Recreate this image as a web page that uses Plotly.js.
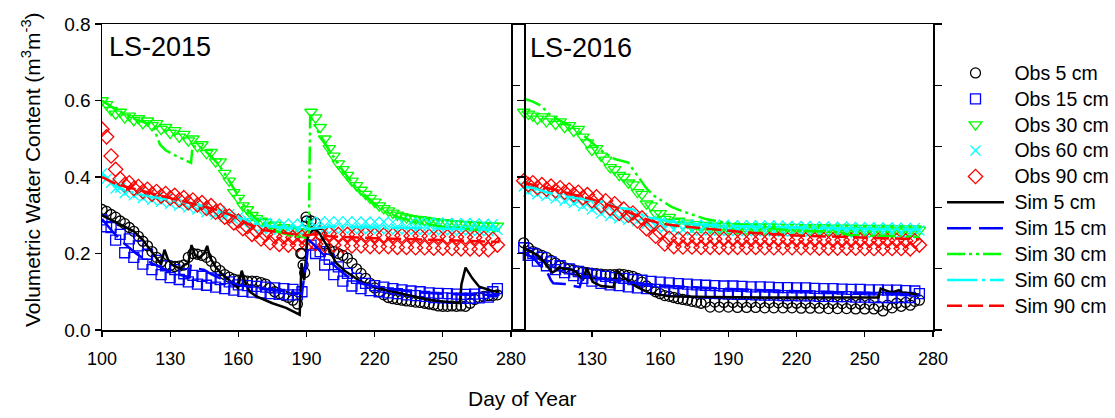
<!DOCTYPE html>
<html><head><meta charset="utf-8">
<script src="https://cdn.plot.ly/plotly-3.0.1.min.js"></script>
<style>html,body{margin:0;padding:0;background:#fff}#chart{width:1115px;height:418px}</style>
</head><body><div id="chart"></div>
<script>
// ---------- observation days (shared by both years) ----------
const obsDays = [100,102,104,106,108,110,112,114,116,118,
 120,122,124,126,128,130,132,134,136,138,
 140,142,144,146,148,150,152,154,156,158,
 160,162,164,166,168,170,172,174,176,178,
 180,182,184,186,188,190,192,194,196,198,
 200,202,204,206,208,210,212,214,216,218,
 220,222,224,226,228,230,232,234,236,238,
 240,242,244,246,248,250,252,254,256,258,
 260,262,264,266,268,270,272,274];

// ---------- LS-2015 observations ----------
const obs5_2015 = [.315,.31,.302,.295,.285,.278,.268,.258,.245,.232,
 .22,.205,.19,.178,.17,.168,.166,.167,.17,.19,
 .2,.198,.195,.19,.18,.165,.155,.145,.138,.133,
 .13,.13,.128,.128,.127,.124,.12,.11,.1,.095,
 .09,.085,.078,.068,.2,.285,.285,.28,.25,.225,
 .21,.205,.2,.195,.188,.175,.16,.148,.135,.122,
 .11,.1,.092,.085,.082,.08,.078,.076,.075,.073,
 .072,.07,.068,.066,.063,.062,.062,.063,.062,.063,
 .062,.07,.08,.085,.088,.09,.09,.092];
const obs5_2015_extraDays = [187.5,188.5,189.2,189.8];
const obs5_2015_extraVals = [0.2,0.17,0.15,0.295];
const obs15_2015 = [.288,.27,.268,.235,.25,.202,.238,.19,.22,.172,
 .198,.158,.182,.145,.168,.137,.158,.132,.147,.126,
 .143,.12,.14,.117,.136,.112,.132,.108,.126,.104,
 .118,.101,.116,.099,.114,.097,.112,.095,.11,.093,
 .108,.092,.106,.092,.1,null,.222,.2,.205,.17,
 .185,.145,.165,.128,.148,.115,.135,.108,.122,.103,
 .116,.1,.112,.097,.108,.095,.105,.092,.102,.09,
 .1,.088,.097,.085,.096,.084,.095,.083,.094,.083,
 .093,.083,.094,.084,.096,.086,.1,.108];
const obs30_2015 = [.60,.59,.575,.565,.57,.555,.56,.548,.553,.54,
 .547,.535,.54,.525,.53,.515,.522,.505,.512,.495,
 .5,.48,.485,.462,.465,.44,.44,.41,.39,.36,
 .345,.325,.315,.3,.292,.285,.282,.272,.275,.265,
 .268,.26,.262,.258,.255,null,.57,.555,.53,.5,
 .475,.455,.435,.42,.405,.39,.378,.366,.355,.345,
 .335,.325,.318,.312,.306,.301,.297,.294,.292,.29,
 .289,.287,.285,.284,.282,.281,.28,.279,.278,.277,
 .276,.275,.275,.274,.273,.273,.272,.272];
const obs60_2015 = [.41,.395,.385,.37,.372,.358,.365,.352,.358,.345,
 .352,.34,.347,.335,.342,.33,.337,.325,.332,.32,
 .327,.315,.322,.308,.316,.302,.31,.296,.303,.288,
 .295,.28,.288,.272,.282,.266,.28,.263,.278,.262,
 .278,.262,.278,.262,.278,.262,.283,.265,.284,.265,
 .284,.265,.284,.265,.284,.265,.284,.264,.283,.264,
 .283,.264,.283,.263,.282,.263,.282,.263,.282,.262,
 .282,.262,.281,.262,.281,.261,.28,.261,.28,.26,
 .28,.26,.279,.259,.278,.258,.277,.262];
const obs90_2015 = [.525,.505,.455,.42,.395,.38,.385,.37,.375,.362,
 .368,.355,.362,.35,.357,.345,.352,.34,.346,.333,
 .34,.327,.333,.318,.325,.308,.312,.295,.298,.28,
 .285,.265,.27,.25,.258,.238,.25,.228,.245,.224,
 .243,.222,.242,.222,.243,.222,.25,.225,.252,.222,
 .252,.222,.25,.22,.25,.22,.25,.22,.25,.218,
 .248,.218,.248,.218,.248,.216,.247,.216,.246,.215,
 .246,.215,.245,.214,.245,.214,.244,.213,.243,.212,
 .243,.212,.242,.211,.24,.21,.238,.222];

// ---------- LS-2015 simulations ----------
const sim5_2015_days = [100,105,110,114,118,122,125,126,127.5,129,131,133,134.5,136,138,139.4,141,143,145,146.3,147.5,150,153,156,159.8,161.5,163,165,168,175,181,187,187.8,189,190.5,193.5,195.7,200,203,207.4,213,220.6,231,245,257.5,258.2,260,263,266,271.7,275];
const sim5_2015 = [0.30,0.285,0.27,0.258,0.235,0.205,0.18,0.172,0.21,0.185,0.17,0.165,0.16,0.17,0.175,0.222,0.195,0.19,0.2,0.22,0.19,0.165,0.145,0.13,0.11,0.155,0.125,0.1,0.088,0.07,0.058,0.04,0.175,0.13,0.245,0.266,0.253,0.21,0.175,0.152,0.13,0.11,0.096,0.078,0.07,0.12,0.163,0.135,0.113,0.102,0.1];
const sim15_2015_days = [100,105,110,115,120,125,130,135,138.5,139,142,145,148,152,160,170,180,188,189,190,191,193,197,202,208,215,225,240,260,275];
const sim15_2015 = [0.29,0.255,0.225,0.2,0.18,0.165,0.152,0.143,0.138,0.168,0.16,0.157,0.146,0.135,0.118,0.108,0.1,0.095,0.14,0.18,0.235,0.225,0.2,0.17,0.14,0.12,0.108,0.098,0.092,0.092];
const sim30_2015_days = [100,105,110,115,120,123,125.5,128,131,134,137,139.2,139.8,143,147,151,155,159,163,167,171,175,180,185,191,191.6,195,200,205,210,215,220,225,230,240,250,262,275];
const sim30_2015 = [0.6,0.58,0.565,0.55,0.54,0.525,0.485,0.47,0.46,0.452,0.445,0.437,0.48,0.48,0.46,0.435,0.4,0.36,0.32,0.295,0.275,0.262,0.252,0.245,0.24,0.56,0.52,0.47,0.425,0.385,0.355,0.33,0.31,0.295,0.28,0.27,0.263,0.258];
const sim60_2015_days = [100,105,110,120,130,140,150,160,168,175,185,192,200,220,250,275];
const sim60_2015 = [0.41,0.38,0.365,0.35,0.34,0.33,0.315,0.295,0.278,0.27,0.265,0.265,0.27,0.268,0.265,0.262];
const sim90_2015_days = [100,105,110,120,130,140,150,158,165,170,178,185,190,193,200,220,250,275];
const sim90_2015 = [0.4,0.385,0.375,0.36,0.345,0.33,0.315,0.298,0.275,0.262,0.255,0.25,0.247,0.25,0.245,0.24,0.235,0.23];

// ---------- LS-2016 observations ----------
const obs5_2016 = [.228,.215,.205,.2,.195,.19,.182,.175,.168,.163,
 .16,.157,.154,.152,.15,.148,.147,.146,.145,.145,
 .145,.146,.145,.143,.14,.135,.125,.115,.108,.1,
 .095,.09,.088,.085,.082,.08,.078,.075,.073,.07,
 .073,.06,.073,.06,.072,.06,.072,.059,.072,.059,
 .072,.059,.071,.058,.071,.058,.071,.058,.07,.058,
 .07,.057,.07,.057,.07,.057,.069,.056,.069,.056,
 .069,.056,.068,.055,.068,.055,.067,.055,.062,.05,
 .065,.058,.07,.062,.072,.065,.075,.078];
const obs15_2016 = [.215,.195,.2,.18,.19,.168,.178,.158,.168,.15,
 .16,.142,.153,.135,.148,.128,.144,.122,.14,.118,
 .137,.116,.135,.113,.132,.11,.13,.108,.127,.106,
 .125,.104,.123,.102,.121,.1,.12,.099,.118,.097,
 .117,.096,.116,.095,.115,.094,.115,.093,.114,.093,
 .113,.092,.113,.091,.112,.091,.111,.09,.111,.09,
 .11,.089,.11,.089,.109,.088,.108,.088,.108,.087,
 .107,.087,.106,.086,.106,.086,.105,.085,.105,.085,
 .104,.085,.104,.085,.103,.085,.102,.095];
const obs30_2016 = [.57,.565,.56,.552,.558,.545,.552,.538,.545,.53,
 .535,.52,.525,.505,.49,.47,.475,.455,.445,.425,
 .42,.405,.4,.385,.38,.36,.355,.33,.325,.305,
 .305,.29,.295,.282,.285,.275,.28,.27,.276,.268,
 .274,.266,.272,.265,.271,.265,.271,.264,.27,.264,
 .27,.264,.27,.263,.27,.263,.269,.263,.269,.263,
 .269,.262,.268,.262,.268,.262,.268,.262,.267,.261,
 .267,.261,.267,.261,.266,.26,.266,.26,.266,.26,
 .266,.26,.265,.26,.265,.259,.265,.262];
const obs60_2016 = [.375,.362,.368,.355,.362,.35,.357,.344,.35,.338,
 .344,.332,.338,.324,.33,.315,.322,.305,.312,.298,
 .305,.292,.3,.288,.296,.284,.292,.278,.286,.272,
 .282,.266,.278,.262,.276,.262,.276,.26,.275,.26,
 .275,.26,.275,.26,.275,.259,.274,.259,.274,.259,
 .274,.258,.273,.258,.273,.258,.273,.257,.272,.257,
 .272,.257,.272,.256,.271,.256,.271,.256,.27,.255,
 .27,.255,.27,.255,.269,.254,.269,.254,.268,.254,
 .268,.253,.268,.253,.267,.253,.267,.26];
const obs90_2016 = [.39,.38,.385,.372,.38,.368,.376,.364,.372,.36,
 .366,.354,.36,.346,.354,.338,.348,.325,.338,.318,
 .33,.305,.316,.3,.306,.285,.293,.265,.275,.245,
 .255,.225,.24,.218,.238,.217,.238,.217,.238,.216,
 .238,.216,.238,.216,.238,.216,.238,.216,.237,.216,
 .237,.216,.237,.215,.237,.215,.237,.215,.236,.215,
 .236,.215,.236,.215,.236,.214,.236,.214,.235,.214,
 .235,.214,.235,.214,.235,.213,.234,.213,.234,.213,
 .234,.213,.234,.213,.233,.212,.233,.222];

// ---------- LS-2016 simulations ----------
const sim5_2016_days = [100,103,106,108,110,112.5,114,115.8,118,121,123,126,127.7,130.3,134,139.5,141,144.5,149.6,155,164,182,211,256,257,260.7,263,265,266.5,274];
const sim5_2016 = [0.215,0.205,0.196,0.185,0.17,0.15,0.155,0.163,0.16,0.158,0.152,0.13,0.162,0.126,0.115,0.112,0.155,0.135,0.113,0.097,0.088,0.086,0.085,0.085,0.108,0.1,0.1,0.104,0.098,0.093];
const sim15_2016_days = [100,104,107,110,112,113,118,124.6,126,130,140,150,160,180,200,230,255,274];
const sim15_2016 = [0.2,0.19,0.17,0.155,0.13,0.122,0.12,0.112,0.14,0.138,0.13,0.122,0.116,0.11,0.105,0.1,0.095,0.093];
const sim30_2016_days = [100,104,108,110.5,115,120,125,130,135,140,146,148,151,154,157,160,165,170,175,180,189,200,215,237,244,274];
const sim30_2016 = [0.605,0.597,0.585,0.567,0.55,0.535,0.515,0.49,0.465,0.447,0.438,0.42,0.395,0.37,0.352,0.34,0.322,0.31,0.3,0.29,0.28,0.273,0.262,0.256,0.248,0.243];
const sim60_2016_days = [100,105,110,117,125,135,141,148,154,161,170,190,220,250,274];
const sim60_2016 = [0.375,0.37,0.36,0.35,0.343,0.335,0.32,0.315,0.295,0.288,0.278,0.272,0.268,0.265,0.262];
const sim90_2016_days = [100,110,120,130,140,150,155,160,164,175,189,200,220,250,274];
const sim90_2016 = [0.385,0.372,0.357,0.342,0.322,0.3,0.287,0.279,0.275,0.268,0.26,0.254,0.247,0.241,0.237];

// ---------- labels ----------
const obsNames = ['Obs 5 cm','Obs 15 cm','Obs 30 cm','Obs 60 cm','Obs 90 cm'];
const simNames = ['Sim 5 cm','Sim 15 cm','Sim 30 cm','Sim 60 cm','Sim 90 cm'];
const xTicks2015 = [100,130,160,190,220,250,280];
const xTicks2016 = [130,160,190,220,250,280];
const yTicks = [0,0.2,0.4,0.6,0.8];
const yTicksMinor = [0,0.16,0.32,0.48,0.64,0.8];

// ---------- styles ----------
const colors = ['#000000','#0000ff','#00ff00','#00ffff','#ff0000'];
const symbols = ['circle-open','square-open','triangle-down-open','x-thin-open','diamond-open'];
const sizes = [10,10,11,10,11];
const dashes = ['solid','24px,8px','18px,4px,3px,4px,3px,4px','30px,5px,3px,5px','15px,6px'];

function legendLabel(s){ return '<span style="font-size:19.5px">\u00a0' + s + '</span>'; }

function obsTrace(i, x, y, xa, ya, show){
  return {type:'scatter', mode:'markers', x:x, y:y, name:legendLabel(obsNames[i]), xaxis:xa, yaxis:ya,
    showlegend:show, hoverinfo:'skip',
    marker:{symbol:symbols[i], size:sizes[i], color:colors[i], line:{color:colors[i], width:1.3}}};
}
function simTrace(i, x, y, xa, ya, show){
  return {type:'scatter', mode:'lines', x:x, y:y, name:legendLabel(simNames[i]), xaxis:xa, yaxis:ya,
    showlegend:show, hoverinfo:'skip',
    line:{color:colors[i], width:2.5, dash:dashes[i]}};
}

const obs2015 = [obs5_2015, obs15_2015, obs30_2015, obs60_2015, obs90_2015];
const obs2016 = [obs5_2016, obs15_2016, obs30_2016, obs60_2016, obs90_2016];
const sims2015 = [[sim5_2015_days,sim5_2015],[sim15_2015_days,sim15_2015],[sim30_2015_days,sim30_2015],[sim60_2015_days,sim60_2015],[sim90_2015_days,sim90_2015]];
const sims2016 = [[sim5_2016_days,sim5_2016],[sim15_2016_days,sim15_2016],[sim30_2016_days,sim30_2016],[sim60_2016_days,sim60_2016],[sim90_2016_days,sim90_2016]];

const traces = [];
for (let i=0;i<5;i++) traces.push(obsTrace(i, obsDays, obs2015[i], 'x', 'y', true));
traces.push(obsTrace(0, obs5_2015_extraDays, obs5_2015_extraVals, 'x', 'y', false));
for (let i=0;i<5;i++) traces.push(simTrace(i, sims2015[i][0], sims2015[i][1], 'x', 'y', true));
for (let i=0;i<5;i++) traces.push(obsTrace(i, obsDays, obs2016[i], 'x2', 'y2', false));
for (let i=0;i<5;i++) traces.push(simTrace(i, sims2016[i][0], sims2016[i][1], 'x2', 'y2', false));
// carriers for the frame axes
traces.push({type:'scatter', mode:'markers', x:[null], y:[null], xaxis:'x', yaxis:'y3', showlegend:false, hoverinfo:'skip'});
traces.push({type:'scatter', mode:'markers', x:[null], y:[null], xaxis:'x2', yaxis:'y4', showlegend:false, hoverinfo:'skip'});

const L = 102, R = 933, T = 24, B = 330, W = 1115, H = 418;
const pw = R - L, ph = B - T;
const px = v => (v - L) / pw;
const py = v => (B - v) / ph;
const split = px(511);

const axisBase = {showgrid:false, zeroline:false, showline:true, linecolor:'#000', linewidth:1.5,
  ticks:'outside', tickcolor:'#000', tickwidth:1.3};

const layout = {
  width:W, height:H, margin:{l:L, r:W-R, t:T, b:H-B, pad:0, autoexpand:false},
  paper_bgcolor:'#ffffff', plot_bgcolor:'rgba(0,0,0,0)',
  font:{family:'"Liberation Sans", Arial, sans-serif', color:'#000'},
  showlegend:true,
  legend:{x:px(942), y:py(55), xanchor:'left', yanchor:'top', font:{size:17.6, color:'#000'},
    itemwidth:57, bgcolor:'rgba(0,0,0,0)', borderwidth:0, traceorder:'normal', tracegroupgap:0},
  xaxis:Object.assign({}, axisBase, {domain:[0, split], range:[100,280], tickvals:xTicks2015,
    ticklen:5, mirror:true, anchor:'y', tickfont:{size:18}, ticklabelstandoff:7}),
  yaxis:Object.assign({}, axisBase, {domain:[0,1], range:[0,0.8], tickvals:yTicks, tickformat:'.1f',
    ticklen:6, anchor:'x', tickfont:{size:19}}),
  yaxis3:Object.assign({}, axisBase, {overlaying:'y', side:'right', anchor:'x', range:[0,0.8],
    tickvals:yTicksMinor, ticklen:7, showticklabels:false}),
  xaxis2:Object.assign({}, axisBase, {domain:[split, 1], range:[94.4,280], tickvals:xTicks2016,
    ticklen:5, mirror:true, anchor:'y2', tickfont:{size:18}, ticklabelstandoff:7}),
  yaxis2:Object.assign({}, axisBase, {domain:[0,1], range:[0,0.8], tickvals:yTicks, anchor:'free',
    position:px(524), side:'left', ticklen:7, showticklabels:false}),
  yaxis4:Object.assign({}, axisBase, {overlaying:'y2', side:'right', anchor:'x2', range:[0,0.8],
    tickvals:yTicksMinor, ticklen:7, showticklabels:false}),
  annotations:[
    {text:'LS-2015', xref:'paper', yref:'paper', x:px(107), y:py(47), xanchor:'left', yanchor:'middle',
      showarrow:false, font:{size:27}},
    {text:'LS-2016', xref:'paper', yref:'paper', x:px(528), y:py(48), xanchor:'left', yanchor:'middle',
      showarrow:false, font:{size:27}},
    {text:'Day of Year', xref:'paper', yref:'paper', x:px(522), y:py(398), xanchor:'center', yanchor:'middle',
      showarrow:false, font:{size:21}},
    {text:'Volumetric Water Content (m<sup>3</sup>m<sup>-3</sup>)', xref:'paper', yref:'paper',
      x:px(31), y:py(170), xanchor:'center', yanchor:'middle', textangle:-90, showarrow:false, font:{size:21}}
  ]
};

Plotly.newPlot('chart', traces, layout, {staticPlot:true, displayModeBar:false});
</script></body></html>
